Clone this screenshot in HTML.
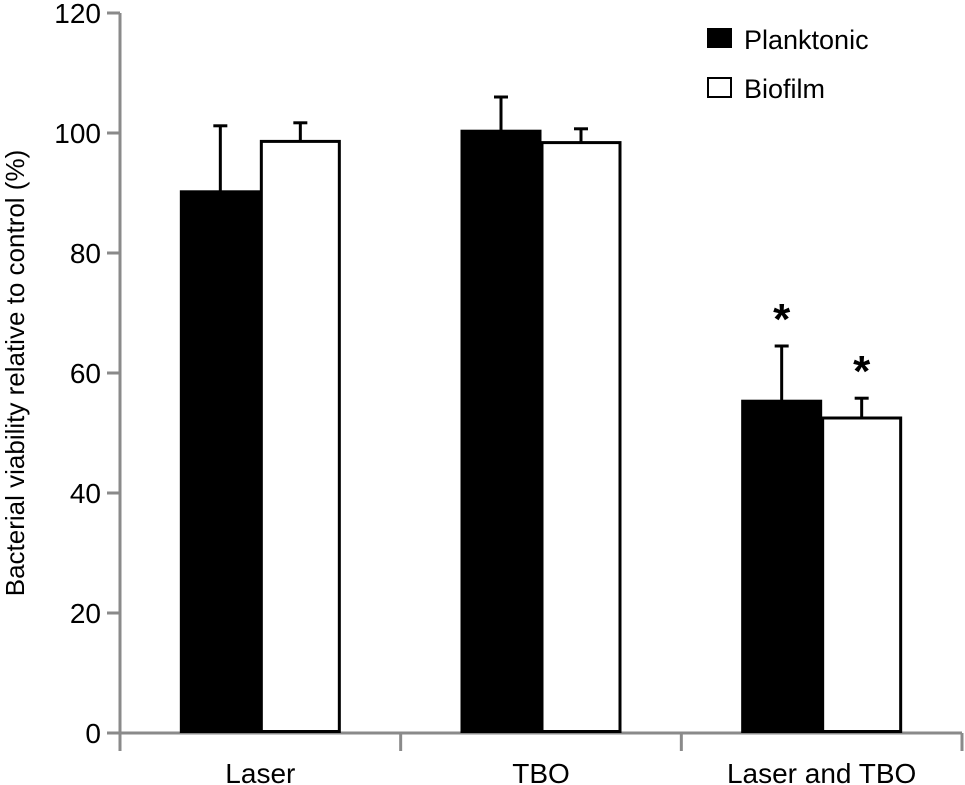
<!DOCTYPE html>
<html><head><meta charset="utf-8"><style>
body{margin:0;background:#fff}
svg{display:block;font-family:"Liberation Sans",Arial,sans-serif}
</style></head><body>
<svg id="chart" width="965" height="785" viewBox="0 0 965 785" xmlns="http://www.w3.org/2000/svg">
<g id="axes"></g>
<g id="bars"></g>
<text transform="translate(24,373) rotate(-90)" text-anchor="middle" font-size="26" fill="#000">Bacterial viability relative to control (%)</text>
<g>
<rect x="707" y="28" width="25" height="20" fill="#000"/>
<text x="744" y="49" font-size="27">Planktonic</text>
<rect x="708" y="78" width="23" height="19" fill="#fff" stroke="#000" stroke-width="2"/>
<text x="744" y="98" font-size="27">Biofilm</text>
</g>
</svg>
<script>
const categories = ["Laser", "TBO", "Laser and TBO"];
const planktonic = [90.2, 100.3, 55.3];
const planktonicErr = [11.0, 5.7, 9.2];
const biofilm = [98.6, 98.4, 52.5];
const biofilmErr = [3.1, 2.3, 3.3];
const significant = [false, false, true];
const yTicks = [0, 20, 40, 60, 80, 100, 120];

const NS = "http://www.w3.org/2000/svg";
const x0 = 120, x1 = 962, yZero = 733, yTop = 13, yMax = 120;
const y = v => yZero - (v / yMax) * (yZero - yTop);
const groupW = (x1 - x0) / categories.length;
const barW = 80;
function mk(tag, attrs, parent) {
  const e = document.createElementNS(NS, tag);
  for (const k in attrs) e.setAttribute(k, attrs[k]);
  parent.appendChild(e);
  return e;
}
const axes = document.getElementById("axes");
const bars = document.getElementById("bars");
const grey = "#8a8a8a";
let ax = mk("line", {x1: x0, y1: yTop, x2: x0, y2: 751, stroke: grey, "stroke-width": 3}, axes);


ax = mk("line", {x1: x0 - 1, y1: yZero, x2: x1, y2: yZero, stroke: grey, "stroke-width": 3}, axes);


yTicks.forEach(t => {
  const l = mk("line", {x1: 107, y1: y(t), x2: x0, y2: y(t), stroke: grey, "stroke-width": 3}, axes);
  
  
  const tx = mk("text", {x: 101, y: y(t) + 10, "text-anchor": "end", "font-size": 28}, axes);
  tx.textContent = t;
  
  
});
for (let i = 1; i <= categories.length; i++) {
  const xx = x0 + groupW * i;
  const l = mk("line", {x1: xx, y1: yZero, x2: xx, y2: 751, stroke: grey, "stroke-width": 3}, axes);
  
  
}
categories.forEach((c, i) => {
  const cx = x0 + groupW * (i + 0.5);
  const tx = mk("text", {x: cx, y: 783, "text-anchor": "middle", "font-size": 28}, axes);
  tx.textContent = c;
  
  
  const series = [[planktonic[i], planktonicErr[i], "#000", cx - barW, "planktonic"], [biofilm[i], biofilmErr[i], "#fff", cx, "biofilm"]];
  series.forEach(([v, e, fill, bx, nm]) => {
    const top = y(v + e);
    const ex = bx + barW / 2;
    const el = mk("line", {x1: ex, y1: y(v), x2: ex, y2: top, stroke: "#000", "stroke-width": 3}, bars);
    
    
    const cap = mk("line", {x1: ex - 7, y1: top, x2: ex + 7, y2: top, stroke: "#000", "stroke-width": 3}, bars);
    
    
    const r = mk("rect", {x: bx + 1, y: y(v), width: barW - 2, height: yZero - y(v) - 1.5, fill: fill, stroke: "#000", "stroke-width": 3}, bars);
    
    
    if (significant[i]) {
      const s = mk("text", {x: ex, y: top - 12, "text-anchor": "middle", "font-size": 44, "font-weight": "bold"}, bars);
      s.textContent = "*";
      
      
    }
  });
});
</script>
</body></html>
